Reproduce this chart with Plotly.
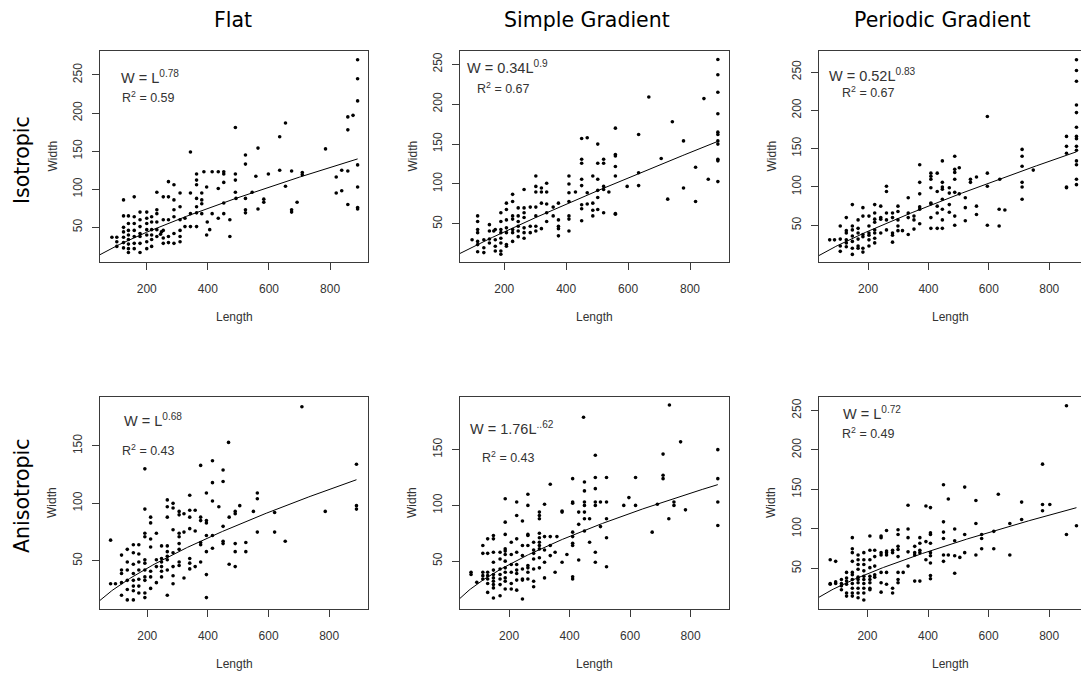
import numpy as np
import plotly.graph_objects as go

W_PX, H_PX = 1081, 673

col_titles = ["Flat", "Simple Gradient", "Periodic Gradient"]
row_titles = ["Isotropic", "Anisotropic"]

# (Length, Width) observations for each treatment
flat_iso = [
    (890, 270), (890, 245), (890, 216), (890, 132), (890, 103), (890, 76), (890, 74),
    (875, 197), (858, 195), (858, 178), (858, 124), (858, 80), (838, 125), (838, 98),
    (820, 116), (820, 95), (785, 153), (709, 122), (709, 119), (692, 83), (674, 124),
    (674, 73), (674, 70), (654, 187), (654, 104), (635, 169), (635, 125), (598, 120),
    (583, 87), (583, 83), (564, 154), (564, 74), (557, 117), (545, 96),
    (523, 145), (523, 133), (523, 88), (523, 73), (523, 69),
    (490, 181), (490, 120), (490, 112), (490, 96), (492, 88),
    (472, 60), (472, 38), (452, 123), (452, 120), (452, 109), (452, 82), (452, 68),
    (434, 123), (434, 101), (434, 62), (414, 123), (414, 68), (406, 47), (398, 57),
    (396, 103), (396, 40), (387, 123),
    (380, 95), (380, 86), (380, 81), (380, 68),
    (363, 120), (363, 112), (363, 106), (363, 88), (363, 77), (363, 69), (363, 51),
    (343, 149), (343, 95), (343, 68), (343, 51),
    (325, 62), (325, 51),
    (309, 95), (309, 77), (309, 60), (309, 46), (309, 38), (309, 31),
    (289, 106), (289, 86), (289, 73), (289, 64), (289, 42), (289, 29),
    (271, 110), (271, 90), (271, 60), (271, 38), (271, 30),
    (254, 90), (254, 60), (254, 46), (254, 36), (254, 29), (245, 41), (248, 44),
    (233, 96), (233, 73), (233, 68), (233, 57), (233, 47), (233, 38),
    (216, 64), (216, 57), (216, 47), (216, 40), (216, 34), (216, 25),
    (200, 70), (200, 62), (200, 55), (200, 47), (200, 40), (200, 31), (200, 22),
    (178, 70), (178, 60), (178, 51), (178, 42), (178, 38), (178, 29), (178, 17),
    (159, 90), (159, 64), (159, 55), (159, 46), (159, 38), (159, 29), (159, 22),
    (140, 65), (140, 55), (140, 46), (140, 40), (140, 34), (140, 28), (140, 22), (140, 17),
    (124, 86), (124, 65), (124, 50), (124, 44), (124, 37), (124, 30), (124, 23),
    (102, 37), (102, 31), (102, 25), (86, 37),
]

grad_iso = [
    (890, 256), (890, 237), (890, 215), (890, 188), (890, 165), (890, 162), (890, 154),
    (890, 150), (890, 131), (890, 129), (890, 103),
    (859, 106), (845, 207), (818, 121), (818, 78), (779, 154), (779, 95), (743, 178),
    (728, 81), (707, 132), (667, 209), (634, 162), (634, 114), (634, 98), (597, 97),
    (559, 170), (559, 137), (559, 135), (559, 122), (559, 110), (559, 63), (559, 62),
    (538, 90), (521, 131), (521, 126), (521, 97), (521, 93), (521, 64),
    (502, 150), (502, 126), (502, 106), (502, 92), (502, 83), (502, 68),
    (486, 110), (486, 76), (486, 67), (486, 60),
    (468, 158), (468, 89), (468, 75),
    (450, 157), (450, 131), (450, 126), (450, 106), (450, 98), (450, 74), (450, 69), (450, 54),
    (430, 90),
    (409, 110), (409, 100), (409, 89), (409, 78), (409, 60), (409, 56), (409, 41),
    (375, 76), (375, 55), (375, 47), (375, 44), (375, 35),
    (358, 71), (358, 60),
    (337, 101), (337, 90), (337, 75), (337, 64), (337, 53),
    (320, 95), (320, 90), (320, 76), (320, 44),
    (302, 110), (302, 97), (302, 90), (302, 71), (302, 60), (302, 47), (302, 41),
    (284, 71), (284, 47), (284, 39),
    (264, 93), (264, 70), (264, 64), (264, 58), (264, 45), (264, 39), (264, 32),
    (245, 70), (245, 60), (245, 53), (245, 47), (245, 41), (245, 34),
    (227, 87), (227, 78), (227, 60), (227, 56), (227, 43), (227, 39), (227, 28),
    (207, 76), (207, 68), (207, 55), (207, 45), (207, 39), (207, 24), (207, 22),
    (189, 64), (189, 53), (189, 43), (189, 39), (189, 32), (189, 26), (189, 16), (189, 12),
    (171, 43), (171, 30), (171, 22), (171, 16), (166, 41),
    (152, 49), (152, 41), (152, 31), (152, 26),
    (134, 30), (134, 20), (134, 14),
    (114, 60), (114, 53), (114, 43), (114, 39), (114, 28), (114, 24), (114, 15),
    (96, 30),
]

periodic_iso = [
    (890, 266), (890, 252), (890, 238), (890, 207), (890, 197), (890, 178), (890, 166),
    (890, 163), (890, 153), (890, 148), (890, 134), (890, 129), (890, 110), (890, 103),
    (857, 166), (857, 153), (857, 144), (857, 100), (857, 99),
    (747, 122), (710, 149), (710, 140), (710, 127), (710, 106), (710, 100), (710, 84),
    (653, 70), (636, 110), (634, 71), (634, 49),
    (595, 192), (595, 118), (595, 101), (595, 50),
    (559, 113), (559, 75), (559, 64), (539, 110), (539, 106),
    (522, 86), (522, 73), (522, 56), (502, 125), (502, 91),
    (487, 140), (487, 123), (487, 119), (487, 110), (487, 93), (487, 62), (487, 50),
    (469, 99), (469, 92), (469, 77), (469, 67),
    (446, 134), (446, 106), (446, 100), (446, 97), (446, 84), (446, 71), (446, 57), (446, 46),
    (429, 118), (429, 94), (429, 75), (429, 66), (429, 46),
    (408, 118), (408, 114), (408, 110), (408, 99), (408, 79), (408, 78), (408, 60), (408, 46),
    (371, 129), (371, 106), (371, 91), (371, 74), (371, 71), (371, 52),
    (352, 62), (352, 57), (352, 45),
    (333, 86), (333, 66), (333, 60), (333, 38), (314, 43),
    (299, 75), (299, 68), (299, 57), (299, 49), (299, 43),
    (281, 66), (281, 60), (281, 40), (281, 37), (281, 28),
    (261, 101), (261, 94), (261, 66), (261, 57), (261, 44),
    (242, 75), (242, 60), (242, 58), (242, 40),
    (222, 77), (222, 66), (222, 58), (222, 54), (222, 44), (222, 40), (222, 33), (222, 27),
    (203, 62), (203, 49), (203, 40), (203, 37), (203, 31), (203, 23),
    (183, 73), (183, 62), (183, 38), (183, 35), (183, 20), (183, 15),
    (167, 57), (167, 46), (167, 40), (167, 32), (167, 23), (167, 20),
    (148, 77), (148, 49), (148, 44), (148, 36), (148, 29), (148, 20), (148, 12),
    (128, 60), (128, 43), (128, 40), (128, 31), (128, 27), (128, 22),
    (108, 49), (108, 32), (108, 23), (108, 16),
    (89, 31), (73, 31),
]

flat_aniso = [
    (710, 184), (890, 134), (890, 98), (890, 95), (787, 93), (655, 67), (620, 92), (620, 75),
    (563, 109), (563, 104), (563, 75), (550, 93), (525, 66), (525, 58), (505, 98),
    (490, 93), (490, 91), (490, 65), (490, 58), (490, 45),
    (470, 88), (470, 47), (468, 153),
    (450, 129), (450, 119), (450, 80), (450, 67), (450, 65), (436, 97),
    (415, 137), (415, 118), (415, 102), (415, 72), (415, 61),
    (395, 109), (395, 85), (395, 83), (395, 72), (395, 58), (395, 38), (395, 18),
    (376, 133), (376, 88), (376, 85), (376, 66), (376, 64), (376, 49),
    (358, 94), (358, 76), (358, 45),
    (340, 107), (340, 94), (340, 88), (340, 78), (340, 52), (340, 48), (340, 43),
    (321, 91), (321, 75), (321, 35),
    (305, 93), (305, 90), (305, 74), (305, 71), (305, 65), (305, 60), (305, 49), (305, 46),
    (285, 100), (285, 96), (285, 77), (285, 57), (285, 45), (285, 37), (285, 30),
    (266, 103), (266, 97), (266, 88), (266, 63), (266, 58), (266, 54), (266, 51), (266, 42), (266, 20),
    (247, 63), (247, 52), (247, 49), (247, 45), (247, 41), (247, 36),
    (230, 74), (230, 51), (230, 45), (230, 31),
    (211, 88), (211, 83), (211, 69), (211, 62), (211, 41), (211, 36), (211, 26),
    (192, 130), (192, 95), (192, 74), (192, 71), (192, 51), (192, 48), (192, 42), (192, 36),
    (192, 33), (192, 22), (192, 18),
    (172, 64), (172, 56), (172, 49), (172, 42), (172, 34), (172, 28), (172, 22),
    (154, 64), (154, 57), (154, 47), (154, 39), (154, 33), (154, 28), (154, 24), (154, 16),
    (134, 60), (134, 49), (134, 42), (134, 33), (134, 25), (134, 16),
    (115, 55), (115, 42), (115, 39), (115, 31), (115, 20),
    (95, 30), (79, 68), (79, 30),
]

grad_aniso = [
    (730, 190), (446, 179), (485, 145), (767, 157), (709, 146), (709, 127), (709, 124),
    (890, 150), (890, 124), (890, 103), (890, 82), (783, 96), (745, 103), (745, 100),
    (728, 88), (690, 101), (673, 76), (618, 125), (618, 100), (596, 107), (579, 100),
    (522, 125), (522, 103), (522, 88), (522, 71), (522, 45), (502, 103), (502, 81),
    (485, 125), (485, 115), (485, 103), (485, 100), (485, 58), (485, 49),
    (466, 88), (466, 67),
    (449, 121), (449, 113), (449, 103), (449, 100), (449, 94), (449, 88), (449, 77),
    (430, 94), (430, 83), (430, 51),
    (410, 124), (410, 103), (410, 102), (410, 76), (410, 72), (410, 66), (410, 64), (410, 36), (410, 34),
    (391, 56), (375, 95), (375, 94), (375, 49), (358, 72), (352, 58), (352, 40),
    (336, 119), (336, 72), (336, 64), (336, 55),
    (317, 101), (317, 72), (317, 60), (317, 49), (317, 35),
    (300, 94), (300, 91), (300, 88), (300, 75), (300, 71), (300, 67), (300, 64), (300, 61),
    (300, 53), (300, 44),
    (281, 67), (281, 60), (281, 57), (281, 52), (281, 43), (281, 32), (281, 27),
    (262, 110), (262, 100), (262, 74), (262, 73), (262, 64), (262, 46), (262, 44), (262, 40), (262, 34),
    (244, 86), (244, 64), (244, 55), (244, 43), (244, 34), (244, 33), (244, 16),
    (225, 103), (225, 91), (225, 70), (225, 58), (225, 47), (225, 42), (225, 39), (225, 33), (225, 24),
    (207, 67), (207, 56), (207, 47), (207, 40), (207, 30), (207, 25),
    (187, 106), (187, 85), (187, 74), (187, 61), (187, 59), (187, 56), (187, 50), (187, 44),
    (187, 40), (187, 35), (187, 32), (187, 25),
    (170, 58), (170, 52), (170, 43), (170, 38), (170, 34), (170, 29), (170, 19),
    (148, 73), (148, 70), (148, 58), (148, 49), (148, 42), (148, 38), (148, 35), (148, 32),
    (148, 29), (148, 26), (148, 17),
    (129, 70), (129, 57), (129, 40), (129, 37), (129, 34), (129, 30), (129, 22),
    (113, 64), (113, 57), (113, 40), (113, 37), (113, 34),
    (93, 31), (74, 40), (74, 38),
]

periodic_aniso = [
    (857, 256), (890, 104), (857, 93), (778, 182), (778, 131), (778, 123), (802, 131),
    (709, 134), (709, 112), (670, 107), (670, 67), (632, 144), (617, 97), (617, 75),
    (577, 93), (577, 88), (577, 75), (558, 136), (558, 107), (558, 67),
    (521, 153), (521, 93), (521, 70), (505, 64),
    (488, 100), (488, 85), (488, 66), (488, 44), (467, 138), (467, 67),
    (451, 156), (451, 109), (451, 96), (451, 88), (451, 67), (451, 59),
    (408, 127), (408, 95), (408, 93), (408, 82), (408, 70), (408, 66), (408, 57), (408, 41), (408, 37),
    (393, 129), (393, 84), (393, 61),
    (373, 89), (373, 82), (373, 73), (373, 70), (373, 34),
    (356, 78), (356, 70), (356, 67), (356, 34),
    (334, 130), (334, 100), (334, 89), (334, 71), (334, 53), (318, 45),
    (301, 99), (301, 93), (301, 78), (301, 74), (301, 65), (301, 45), (301, 36), (301, 32),
    (283, 73), (283, 70), (283, 25), (283, 19),
    (263, 98), (263, 72), (263, 70), (263, 67), (263, 45), (263, 30),
    (245, 91), (245, 89), (245, 70), (245, 67), (245, 45), (245, 32), (245, 20),
    (224, 73), (224, 65), (224, 53), (224, 42), (224, 39),
    (208, 91), (208, 73), (208, 61), (208, 51), (208, 40), (208, 36), (208, 32), (208, 25), (208, 23),
    (188, 70), (188, 61), (188, 55), (188, 47), (188, 40), (188, 36), (188, 31), (188, 25),
    (188, 19), (188, 10),
    (169, 67), (169, 61), (169, 55), (169, 49), (169, 39), (169, 36), (169, 32), (169, 25),
    (169, 19), (169, 13),
    (150, 89), (150, 75), (150, 70), (150, 59), (150, 45), (150, 42), (150, 36), (150, 31),
    (150, 25), (150, 19), (150, 15),
    (131, 45), (131, 38), (131, 34), (131, 30), (131, 19), (131, 15),
    (114, 36), (114, 31), (114, 28), (114, 23),
    (95, 59), (95, 33), (95, 31), (77, 61), (77, 31), (77, 30),
]

# power-law fits W = a * L^b drawn through each panel
fit_coef = [0.70, 0.34, 0.52, 1.19, 1.76, 0.955]
fit_exp = [0.78, 0.90, 0.83, 0.68, 0.62, 0.72]
eq_labels = ["W = L<sup>0.78</sup>", "W = 0.34L<sup>0.9</sup>", "W = 0.52L<sup>0.83</sup>",
             "W = L<sup>0.68</sup>", "W = 1.76L<sup>..62</sup>", "W = L<sup>0.72</sup>"]
r2_values = ["0.59", "0.67", "0.67", "0.43", "0.43", "0.49"]

datasets = [flat_iso, grad_iso, periodic_iso, flat_aniso, grad_aniso, periodic_aniso]

x_ticks = [200, 400, 600, 800]
y_ticks_top = [50, 100, 150, 200, 250]
y_ticks_flat_aniso = [50, 100, 150]

# panel geometry in pixels
col_px = [(100, 368), (460, 729), (819, 1081)]
row_px = [(51, 262), (397, 609)]
x_ranges = [[47, 924], [57, 926], [37.6, 905], [44, 928], [37.5, 927], [40, 905]]
y_ranges = [[4.5, 281.5], [2.2, 266.7], [2.1, 277.4], [8.1, 192.5], [7.1, 197.2], [-1.3, 267]]
y_tickvals = [y_ticks_top, y_ticks_top, y_ticks_top, y_ticks_flat_aniso, y_ticks_flat_aniso, y_ticks_top]
eq_pos = [(119, 77), (465, 67), (827, 75), (122, 420), (468, 428), (841, 413)]
r2_pos = [(120, 97), (475, 88), (840, 92), (120, 450), (480, 457), (840, 433)]
title_pos = [(233, 20), (587, 20), (942, 20)]
row_label_pos = [(22, 160), (22, 496)]

AXIS_FONT = "Liberation Sans, Arial, sans-serif"
TITLE_FONT = "DejaVu Sans, sans-serif"
FRAME = "#3a3a3a"
TEXT = "#333333"

fig = go.Figure()
layout = dict(
    width=W_PX, height=H_PX,
    margin=dict(l=0, r=0, t=0, b=0),
    paper_bgcolor="white", plot_bgcolor="white",
    showlegend=False,
    font=dict(family=AXIS_FONT, color=TEXT),
)

annotations = []


def px_x(v):
    return v / W_PX


def px_y(v):
    return 1 - v / H_PX


for i, pts in enumerate(datasets):
    r, c = divmod(i, 3)
    sfx = "" if i == 0 else str(i + 1)
    L = np.array([p[0] for p in pts], dtype=float)
    Wd = np.array([p[1] for p in pts], dtype=float)

    fig.add_trace(go.Scatter(
        x=L, y=Wd, mode="markers", xaxis="x" + sfx, yaxis="y" + sfx,
        marker=dict(symbol="circle", size=3.6, color="black", line=dict(width=0)),
        hoverinfo="x+y",
    ))
    lx = np.linspace(x_ranges[i][0], L.max(), 200)
    fig.add_trace(go.Scatter(
        x=lx, y=fit_coef[i] * lx ** fit_exp[i], mode="lines",
        xaxis="x" + sfx, yaxis="y" + sfx,
        line=dict(color="black", width=1), hoverinfo="skip",
    ))

    x0, x1 = col_px[c]
    y0, y1 = row_px[r]
    layout["xaxis" + sfx] = dict(
        domain=[px_x(x0), px_x(x1)], range=x_ranges[i], anchor="y" + sfx,
        showline=True, linecolor=FRAME, linewidth=1, mirror=True,
        showgrid=False, zeroline=False,
        ticks="outside", ticklen=7, tickcolor=FRAME, tickwidth=1,
        tickvals=x_ticks, tickfont=dict(size=12, family=AXIS_FONT, color=TEXT),
        ticklabelstandoff=9,
    )
    layout["yaxis" + sfx] = dict(
        domain=[px_y(y1), px_y(y0)], range=y_ranges[i], anchor="x" + sfx,
        showline=True, linecolor=FRAME, linewidth=1, mirror=(c != 2),
        showgrid=False, zeroline=False,
        ticks="outside", ticklen=7, tickcolor=FRAME, tickwidth=1,
        tickvals=y_tickvals[i], tickangle=-90,
        tickfont=dict(size=12, family=AXIS_FONT, color=TEXT),
        ticklabelstandoff=5,
    )

    # axis titles
    annotations.append(dict(
        text="Length", x=px_x((x0 + x1) / 2), y=px_y(y1 + 55), xref="paper", yref="paper",
        showarrow=False, xanchor="center", yanchor="middle",
        font=dict(size=12, family=AXIS_FONT, color=TEXT),
    ))
    annotations.append(dict(
        text="Width", x=px_x(x0 - 48), y=px_y((y0 + y1) / 2), xref="paper", yref="paper",
        showarrow=False, xanchor="center", yanchor="middle", textangle=-90,
        font=dict(size=12, family=AXIS_FONT, color=TEXT),
    ))
    # fit equation and R^2
    ex, ey = eq_pos[i]
    annotations.append(dict(
        text=eq_labels[i], x=px_x(ex), y=px_y(ey), xref="paper", yref="paper",
        showarrow=False, xanchor="left", yanchor="middle",
        font=dict(size=14.5, family=AXIS_FONT, color=TEXT),
    ))
    rx, ry = r2_pos[i]
    annotations.append(dict(
        text="R<sup>2</sup> = " + r2_values[i], x=px_x(rx), y=px_y(ry), xref="paper", yref="paper",
        showarrow=False, xanchor="left", yanchor="middle",
        font=dict(size=12.5, family=AXIS_FONT, color=TEXT),
    ))

for t, (tx, ty) in zip(col_titles, title_pos):
    annotations.append(dict(
        text=t, x=px_x(tx), y=px_y(ty), xref="paper", yref="paper",
        showarrow=False, xanchor="center", yanchor="middle",
        font=dict(size=20.5, family=TITLE_FONT, color="black"),
    ))
for t, (tx, ty) in zip(row_titles, row_label_pos):
    annotations.append(dict(
        text=t, x=px_x(tx), y=px_y(ty), xref="paper", yref="paper",
        showarrow=False, xanchor="center", yanchor="middle", textangle=-90,
        font=dict(size=20.5, family=TITLE_FONT, color="black"),
    ))

layout["annotations"] = annotations
fig.update_layout(**layout)
fig.write_html("out.html")
